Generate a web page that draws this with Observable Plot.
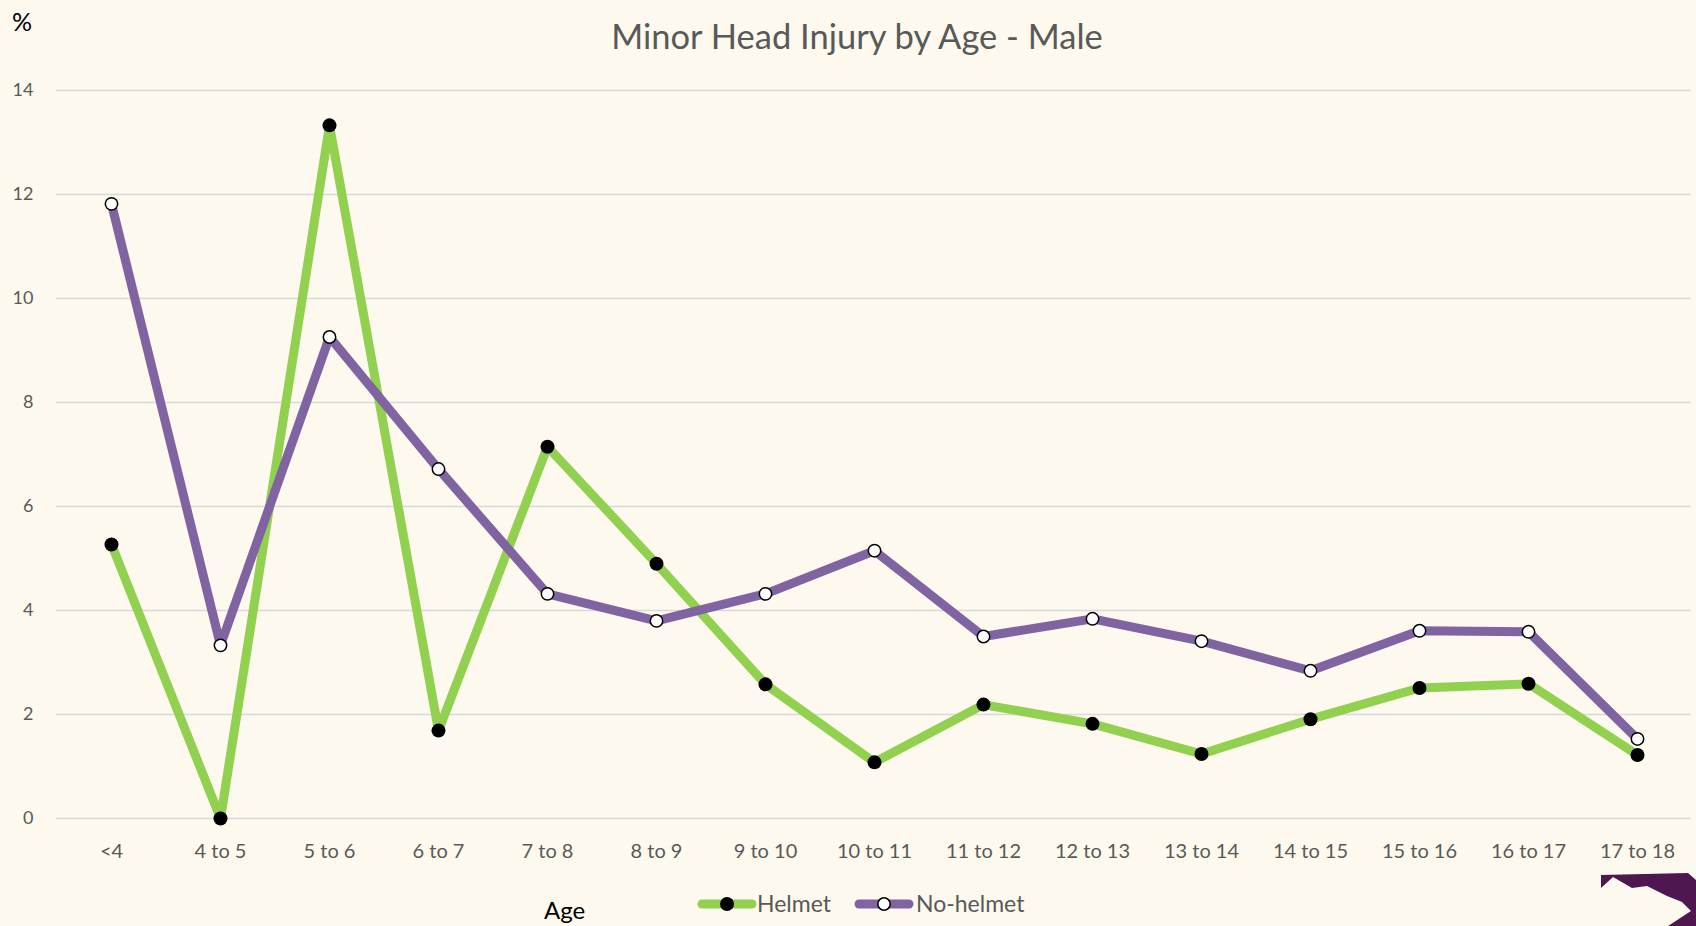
<!DOCTYPE html>
<html><head><meta charset="utf-8">
<script src="https://cdn.jsdelivr.net/npm/d3@7"></script>
<script src="https://cdn.jsdelivr.net/npm/@observablehq/plot@0.6"></script>
<style>
html,body{margin:0;padding:0;background:#FDF9EE;}
#wrap{position:relative;width:1696px;height:926px;background:#FDF9EE;font-family:Lato,"Open Sans",sans-serif;overflow:hidden;}
.abs{position:absolute;white-space:nowrap;line-height:1;}
#title{top:19px;left:857px;transform:translateX(-50%);font-size:34.5px;color:#595959;}
#pct{top:9px;left:12px;font-size:25px;color:#000;}
#agelab{top:898px;left:544px;font-size:24px;color:#000;}
#chart{position:absolute;top:60px;left:0;}
.legtxt{font-size:23px;color:#595959;top:892px;}
</style>
</head><body>
<div id="wrap">
  <div id="title" class="abs">Minor Head Injury by Age - Male</div>
  <div id="pct" class="abs">%</div>
  <div id="chart"></div>
  <div id="agelab" class="abs">Age</div>
  <svg class="abs" style="left:695px;top:896px" width="64" height="16"><line x1="7" y1="8" x2="57" y2="8" stroke="#92D050" stroke-width="9" stroke-linecap="round"/><circle cx="32" cy="8" r="7" fill="#000"/></svg>
  <div class="abs legtxt" style="left:757px">Helmet</div>
  <svg class="abs" style="left:852px;top:896px" width="64" height="16"><line x1="7" y1="8" x2="57" y2="8" stroke="#8064A2" stroke-width="9" stroke-linecap="round"/><circle cx="32" cy="8" r="6.2" fill="#fff" stroke="#000" stroke-width="1.5"/></svg>
  <div class="abs legtxt" style="left:916px">No-helmet</div>
  <svg class="abs" style="left:0;top:0" width="1696" height="926" pointer-events="none">
    <polygon fill="#4F1650" points="1601,875 1688,873 1696,880 1696,926 1668,926 1691,911 1682,902 1667,896 1647,886 1632,888 1613,877 1601,888"/>
  </svg>
</div>
<script>
const ages = ["<4","4 to 5","5 to 6","6 to 7","7 to 8","8 to 9","9 to 10","10 to 11","11 to 12","12 to 13","13 to 14","14 to 15","15 to 16","16 to 17","17 to 18"];
const helmet = [5.27,0,13.33,1.69,7.15,4.90,2.58,1.08,2.19,1.82,1.24,1.91,2.51,2.59,1.22];
const noHelmet = [11.82,3.33,9.26,6.72,4.32,3.80,4.32,5.15,3.50,3.84,3.41,2.84,3.61,3.59,1.53];
const yTicks = [0,2,4,6,8,10,12,14];

const helmetRows = ages.map((a,i)=>({age:a, value:helmet[i]}));
const noHelmetRows = ages.map((a,i)=>({age:a, value:noHelmet[i]}));

const chart = Plot.plot({
  width:1696, height:820,
  marginLeft:56, marginRight:5, marginTop:30, marginBottom:62,
  style:{background:"transparent", fontFamily:"Lato, 'Open Sans', sans-serif", fontSize:"18px", color:"#595959", overflow:"visible"},
  x:{type:"point", domain:ages, padding:0.5, label:null},
  y:{domain:[0,14], label:null},
  marks:[
    Plot.gridY(yTicks, {stroke:"#D9D9D9", strokeOpacity:1, strokeWidth:1.5}),
    Plot.axisY(yTicks, {tickSize:0, tickPadding:23, fontSize:18, fill:"#595959", tickFormat:d=>String(d), label:null}),
    Plot.axisX({tickSize:0, tickPadding:25, fontSize:20, fill:"#595959", label:null}),
    Plot.line(helmetRows, {x:"age", y:"value", stroke:"#92D050", strokeWidth:9, strokeLinejoin:"round", strokeLinecap:"round"}),
    Plot.dot(helmetRows, {x:"age", y:"value", r:7, fill:"#000", stroke:"none"}),
    Plot.line(noHelmetRows, {x:"age", y:"value", stroke:"#8064A2", strokeWidth:9, strokeLinejoin:"round", strokeLinecap:"round"}),
    Plot.dot(noHelmetRows, {x:"age", y:"value", r:6.2, fill:"#fff", stroke:"#000", strokeWidth:1.5})
  ]
});
document.getElementById("chart").appendChild(chart);
</script>
</body></html>
